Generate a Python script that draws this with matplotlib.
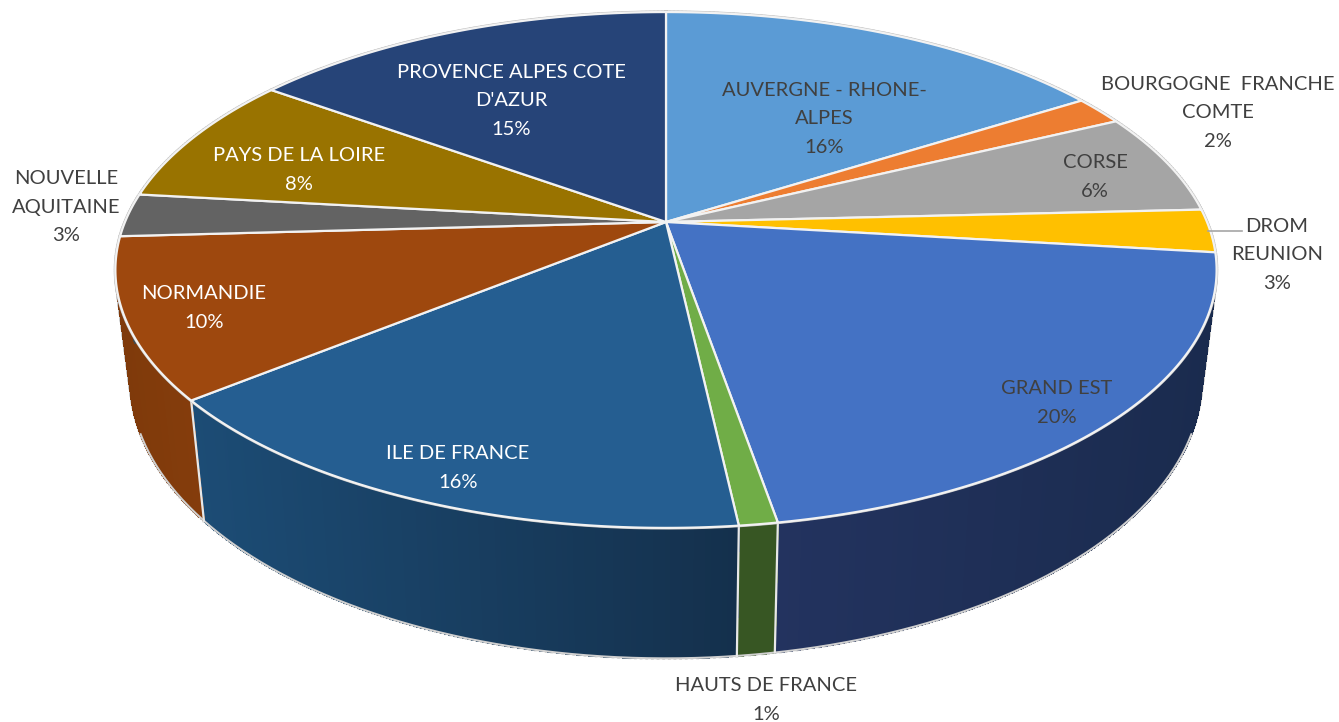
#!/usr/bin/python

import numpy as np
import matplotlib
matplotlib.use('Agg')
import matplotlib.pyplot as plt
from matplotlib.colors import to_rgb
from matplotlib.patches import Polygon

names = ['AUVERGNE - RHONE-\nALPES', 'BOURGOGNE  FRANCHE\nCOMTE', 'CORSE', 'DROM\nREUNION',
         'GRAND EST', 'HAUTS DE FRANCE', 'ILE DE FRANCE', 'NORMANDIE',
         'NOUVELLE\nAQUITAINE', 'PAYS DE LA LOIRE', 'PROVENCE ALPES COTE\nD\'AZUR']
values = [16.0, 1.8, 6.4, 2.7, 20.4, 0.95, 15.85, 10.0, 2.7, 8.2, 15.0]
percent_labels = ['16%', '2%', '6%', '3%', '20%', '1%', '16%', '10%', '3%', '8%', '15%']

colors = ['#5B9BD5', '#ED7D31', '#A5A5A5', '#FFC000', '#4472C4', '#70AD47',
          '#255E91', '#9E480E', '#636363', '#997300', '#264478']
# side wall colours, left and right end of each slice
side_left = ['#3a6a96', '#ab5a23', '#777777', '#b88a00', '#23335f', '#375623',
             '#1c4c75', '#7f3a0b', '#474747', '#6e5300', '#1b3156']
side_right = ['#3a6a96', '#ab5a23', '#777777', '#b88a00', '#1a2b4e', '#375623',
              '#14304c', '#853d0c', '#474747', '#6e5300', '#1b3156']
text_colors = ['#404040', '#404040', '#404040', '#404040', '#404040', '#404040',
               'white', 'white', '#404040', 'white', 'white']
label_x = [824, 1218, 1095, 1277, 1057, 766, 458, 204, 66, 299, 511]
label_y = [119, 113, 177, 255, 403, 700, 468, 308, 207, 170, 101]

# pie seen in perspective
CX, CY = 666, 222
A, B, K = 249, 541, 0.186
X_SHRINK, Y_GROW, DEPTH = 0.973, 1.08, 106


def top_xy(theta):
    x, y = np.sin(theta), np.cos(theta)
    w = 1 + K * y
    return B * x / w, -A * y / w


def bottom_xy(theta):
    x, y = top_xy(theta)
    return x * X_SHRINK, y * Y_GROW + DEPTH


plt.rcParams['font.family'] = ['Lato', 'DejaVu Sans']
fig = plt.figure(figsize=(13.39, 7.22), dpi=100)
ax = fig.add_axes([0, 0, 1, 1])
ax.set_xlim(0, 1339)
ax.set_ylim(722, 0)
ax.axis('off')

edges = np.radians(np.cumsum([0] + values) * 3.6)

# side walls first, the top covers whatever is behind
for i in range(len(values)):
    t0, t1 = edges[i], edges[i + 1]
    n = max(int(np.degrees(t1 - t0) * 2), 2)
    ts = np.linspace(t0, t1, n + 1)
    xt, yt = top_xy(ts)
    xb, yb = bottom_xy(ts)
    # grey silhouette under the strips
    for j in range(n + 1):
        ax.plot([CX + xt[j], CX + xb[j]], [CY + yt[j], CY + yb[j]], color='#c8c8c8', lw=2, zorder=1)
    c0, c1 = np.array(to_rgb(side_left[i])), np.array(to_rgb(side_right[i]))
    lo, hi = min(xt.min(), xb.min()), max(xt.max(), xb.max())
    for j in range(n):
        f = ((xt[j] + xt[j + 1]) / 2 - lo) / (hi - lo)
        col = c0 + (c1 - c0) * f
        pts = [(CX + xt[j], CY + yt[j]), (CX + xt[j + 1], CY + yt[j + 1]),
               (CX + xb[j + 1], CY + yb[j + 1]), (CX + xb[j], CY + yb[j])]
        ax.add_patch(Polygon(pts, closed=True, facecolor=col, edgecolor=col, lw=0.8,
                             antialiased=False, zorder=2))

# bottom rim, only where it is the outline, and wall joints
ts = np.linspace(np.pi * 0.62, np.pi * 1.38, 300)
xb, yb = bottom_xy(ts)
ax.plot(CX + xb, CY + yb, color='#d0d0d0', lw=1.5, zorder=3)
for t in edges:
    if np.cos(t) < -0.3:
        xt, yt = top_xy(t)
        xb, yb = bottom_xy(t)
        ax.plot([CX + xt, CX + xb], [CY + yt, CY + yb], color='#e8e8e8', lw=1.6, zorder=3)

# top face
ts = np.linspace(0, 2 * np.pi, 720)
xt, yt = top_xy(ts)
ax.plot(CX + xt, CY + yt, color='#c4c4c4', lw=2.4, zorder=4)
for i in range(len(values)):
    ts = np.linspace(edges[i], edges[i + 1], 120)
    xt, yt = top_xy(ts)
    pts = np.column_stack([np.r_[CX, CX + xt], np.r_[CY, CY + yt]])
    ax.add_patch(Polygon(pts, closed=True, facecolor=colors[i], edgecolor='#f2f2f2',
                         lw=1.6, joinstyle='round', zorder=5))

# leader line of the DROM label
ax.plot([1208, 1242], [231, 231], color='#a6a6a6', lw=1.2, zorder=6)

for i in range(len(values)):
    ax.text(label_x[i], label_y[i], names[i] + '\n' + percent_labels[i], color=text_colors[i],
            fontsize=14.5, ha='center', va='center', linespacing=1.8, zorder=7)

fig.savefig('out.png', dpi=100)
